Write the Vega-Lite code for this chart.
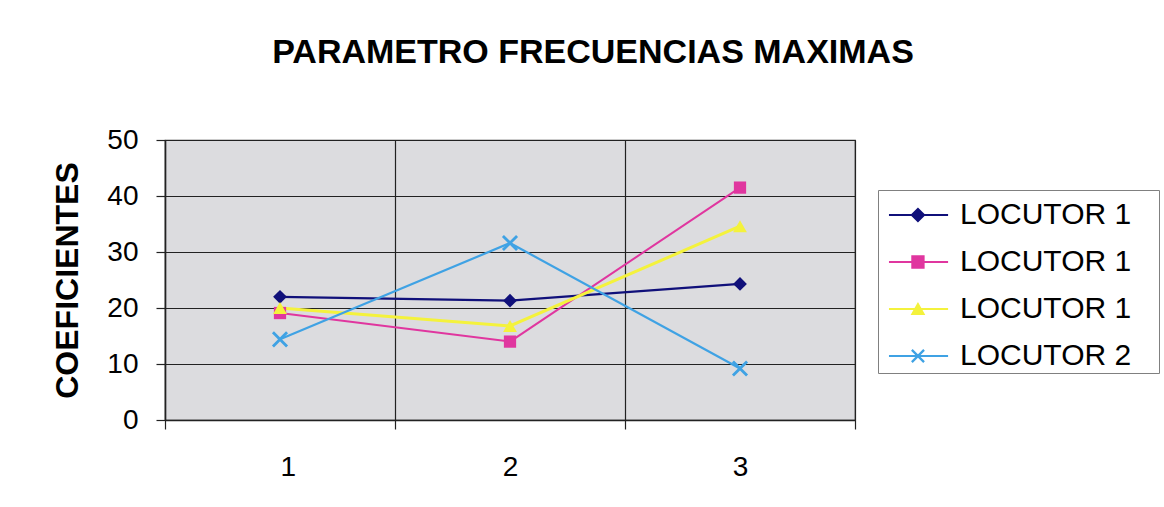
{
  "$schema": "https://vega.github.io/schema/vega-lite/v6.json",
  "autosize": "none",
  "width": 690,
  "height": 280,
  "padding": {"left": 165, "top": 140, "right": 309, "bottom": 87},
  "background": "#ffffff",
  "config": {
    "view": {"fill": "#dcdcdf", "stroke": "#333333", "strokeWidth": 1.2},
    "font": "Liberation Sans"
  },
  "title": {
    "text": "PARAMETRO FRECUENCIAS MAXIMAS",
    "font": "Liberation Sans",
    "fontSize": 34,
    "fontWeight": "bold",
    "color": "#000000",
    "anchor": "middle",
    "frame": "group",
    "baseline": "alphabetic",
    "offset": 29,
    "dx": 83
  },
  "data": {
    "values": [
      {"x": 1, "s": "A", "v": 22.0},
      {"x": 2, "s": "A", "v": 21.3},
      {"x": 3, "s": "A", "v": 24.3},
      {"x": 1, "s": "B", "v": 19.1},
      {"x": 2, "s": "B", "v": 14.0},
      {"x": 3, "s": "B", "v": 41.5},
      {"x": 1, "s": "C", "v": 20.0},
      {"x": 2, "s": "C", "v": 16.8},
      {"x": 3, "s": "C", "v": 34.6},
      {"x": 1, "s": "D", "v": 14.4},
      {"x": 2, "s": "D", "v": 31.6},
      {"x": 3, "s": "D", "v": 9.2}
    ]
  },
  "encoding": {
    "x": {
      "field": "x",
      "type": "quantitative",
      "scale": {"domain": [0.5, 3.5], "nice": false, "zero": false},
      "axis": {
        "title": null,
        "values": [0.5, 1.5, 2.5, 3.5],
        "labelExpr": "datum.value < 3 ? format(datum.value + 0.5, 'd') : ''",
        "labelOffset": 115,
        "labelFont": "Liberation Sans",
        "labelFontSize": 28,
        "labelColor": "#000000",
        "labelBaseline": "alphabetic",
        "labelPadding": 46,
        "tickSize": 9,
        "tickColor": "#222222",
        "tickWidth": 1.2,
        "domainColor": "#222222",
        "domainWidth": 1.5,
        "grid": true,
        "gridColor": "#222222",
        "gridWidth": 1.2
      }
    },
    "y": {
      "field": "v",
      "type": "quantitative",
      "scale": {"domain": [0, 50], "nice": false},
      "axis": {
        "title": "COEFICIENTES",
        "titleFont": "Liberation Sans",
        "titleFontSize": 32,
        "titleFontWeight": "bold",
        "titleColor": "#000000",
        "titleBaseline": "alphabetic",
        "titleAlign": "center",
        "titleAngle": -90,
        "titleX": -88,
        "titleY": 140,
        "values": [0, 10, 20, 30, 40, 50],
        "labelFont": "Liberation Sans",
        "labelFontSize": 28,
        "labelColor": "#000000",
        "labelPadding": 18,
        "tickSize": 9,
        "tickColor": "#222222",
        "tickWidth": 1.2,
        "domainColor": "#222222",
        "domainWidth": 1.5,
        "grid": true,
        "gridColor": "#222222",
        "gridWidth": 1.2
      }
    },
    "color": {
      "field": "s",
      "type": "nominal",
      "scale": {"domain": ["A", "B", "C", "D"], "range": ["#10107a", "#e0369f", "#f4f23c", "#3fa2e4"]}
    }
  },
  "layer": [
    {
      "mark": {"type": "line"},
      "encoding": {
        "color": {"field": "s", "type": "nominal", "legend": null},
        "strokeWidth": {
          "field": "s",
          "type": "nominal",
          "legend": null,
          "scale": {"type": "ordinal", "domain": ["A", "B", "C", "D"], "range": [2.2, 2, 3, 2.2]}
        }
      }
    },
    {
      "mark": {"type": "point", "filled": true, "opacity": 1, "strokeWidth": 0},
      "encoding": {
        "color": {"field": "s", "type": "nominal", "legend": null},
        "shape": {
          "field": "s",
          "type": "nominal",
          "legend": null,
          "scale": {"domain": ["A", "B", "C", "D"], "range": ["diamond", "square", "triangle-up", "M-1,-0.75L-0.75,-1L1,0.75L0.75,1Z M0.75,-1L1,-0.75L-0.75,1L-1,0.75Z"]}
        },
        "size": {
          "field": "s",
          "type": "nominal",
          "legend": null,
          "scale": {"type": "ordinal", "domain": ["A", "B", "C", "D"], "range": [190, 150, 190, 260]}
        }
      }
    },
    {
      "mark": {"type": "point", "filled": true, "opacity": 0, "strokeWidth": 0},
      "encoding": {
        "color": {
          "field": "s",
          "type": "nominal",
          "legend": {
            "title": null,
            "orient": "none",
            "legendX": 713,
            "legendY": 50,
            "padding": 2,
            "rowPadding": 9,
            "strokeColor": "#808080",
            "fillColor": "#ffffff",
            "symbolSize": 2116,
            "symbolOpacity": 1,
            "symbolStrokeWidth": 0,
            "labelOffset": 34,
            "labelFont": "Liberation Sans",
            "labelFontSize": 30,
            "labelColor": "#000000",
            "labelLimit": 400,
            "labelExpr": "datum.label == 'D' ? 'LOCUTOR 2\u00a0\u00a0\u00a0\u200b' : 'LOCUTOR 1\u00a0\u00a0\u00a0\u200b'"
          }
        },
        "shape": {
          "field": "s",
          "type": "nominal",
          "legend": {
            "title": null,
            "orient": "none",
            "legendX": 713,
            "legendY": 50,
            "padding": 2,
            "rowPadding": 9,
            "strokeColor": "#808080",
            "fillColor": "#ffffff",
            "symbolSize": 2116,
            "symbolOpacity": 1,
            "symbolStrokeWidth": 0,
            "labelOffset": 34,
            "labelFont": "Liberation Sans",
            "labelFontSize": 30,
            "labelColor": "#000000",
            "labelLimit": 400,
            "labelExpr": "datum.label == 'D' ? 'LOCUTOR 2\u00a0\u00a0\u00a0\u200b' : 'LOCUTOR 1\u00a0\u00a0\u00a0\u200b'"
          },
          "scale": {
            "domain": ["A", "B", "C", "D"],
            "range": [
              "M-0.61,-0.045L1.96,-0.045L1.96,0.045L-0.61,0.045Z M0.65,-0.33L0.98,0L0.65,0.33L0.32,0Z",
              "M-0.61,-0.045L1.96,-0.045L1.96,0.045L-0.61,0.045Z M0.36,-0.29L0.94,-0.29L0.94,0.29L0.36,0.29Z",
              "M-0.61,-0.045L1.96,-0.045L1.96,0.045L-0.61,0.045Z M0.65,-0.3L0.97,0.26L0.33,0.26Z",
              "M-0.61,-0.045L1.96,-0.045L1.96,0.045L-0.61,0.045Z M0.35,-0.23L0.42,-0.3L0.95,0.23L0.88,0.3Z M0.88,-0.3L0.95,-0.23L0.42,0.3L0.35,0.23Z"
            ]
          }
        }
      }
    }
  ],
  "resolve": {"scale": {"shape": "independent", "color": "independent"}, "legend": {"color": "independent", "shape": "independent"}}
}
